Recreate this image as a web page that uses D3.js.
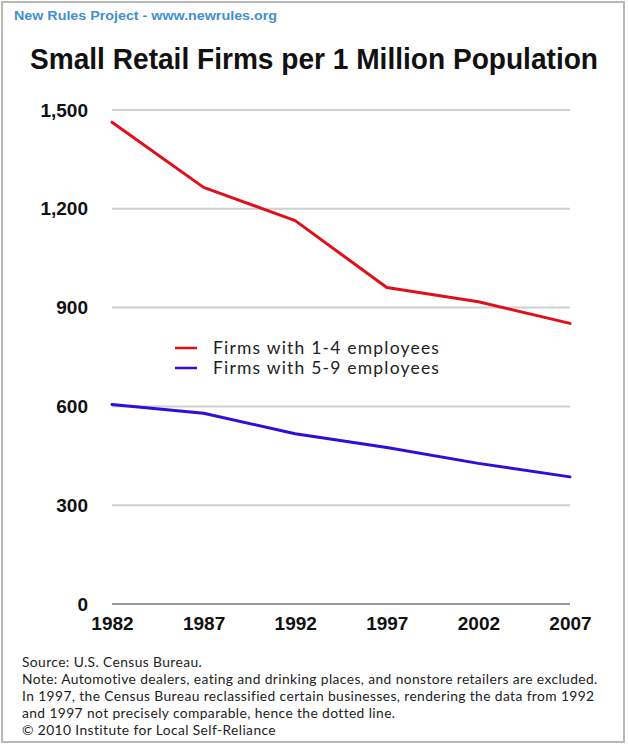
<!DOCTYPE html>
<html><head><meta charset="utf-8">
<script src="https://cdn.jsdelivr.net/npm/d3@7"></script>
<style>body{margin:0;background:#fff}svg{display:block}</style>
</head><body>
<script>
const years = [1982, 1987, 1992, 1997, 2002, 2007];
const firms1to4 = [1463, 1265, 1164, 961, 918, 852];
const firms5to9 = [606, 579, 517, 475, 427, 386];
const yTicks = [0, 300, 600, 900, 1200, 1500];
const seriesNames = ["Firms with 1-4 employees", "Firms with 5-9 employees"];
const seriesColors = ["#e0101a", "#2a10d8"];
const noteLines = [
  "Source:  U.S. Census Bureau.",
  "Note:  Automotive dealers, eating and drinking places, and nonstore retailers are excluded.",
  "In 1997, the Census Bureau reclassified certain businesses, rendering the data from 1992",
  "and 1997 not precisely comparable, hence the dotted line.",
  "\u00A9 2010 Institute for Local Self-Reliance"
];

const W = 628, H = 745;
const svg = d3.select("body").append("svg").attr("width", W).attr("height", H);

// frame
svg.append("rect").attr("x", 2).attr("y", 2).attr("width", 622).attr("height", 740)
  .attr("fill", "#fff").attr("stroke", "#b8b8b8").attr("stroke-width", 2);

svg.append("text").attr("x", 14).attr("y", 20)
  .attr("font-family", "Liberation Sans, Arial, sans-serif").attr("font-weight", "bold")
  .attr("font-size", 13.5).attr("fill", "#3f8fd2")
  .attr("textLength", 263).attr("lengthAdjust", "spacingAndGlyphs")
  .text("New Rules Project - www.newrules.org");

svg.append("text").attr("x", 30).attr("y", 69)
  .attr("font-family", "Liberation Sans, Arial, sans-serif").attr("font-weight", "bold")
  .attr("font-size", 29).attr("fill", "#111")
  .attr("textLength", 568).attr("lengthAdjust", "spacingAndGlyphs")
  .text("Small Retail Firms per 1 Million Population");

const x = d3.scalePoint().domain(years).range([112, 570]);
const y = d3.scaleLinear().domain([0, 1500]).range([604, 110]);

// grid
const gridG = svg.append("g");
gridG.selectAll("line").data(yTicks).join("line")
  .attr("x1", 112).attr("x2", 570)
  .attr("y1", d => y(d)).attr("y2", d => y(d))
  .attr("stroke", d => d === 0 ? "#9a9a9a" : "#cfcfcf")
  .attr("stroke-width", 2);

// y axis labels
const yAxis = d3.axisLeft(y).tickValues(yTicks).tickFormat(d3.format(",")).tickSize(0).tickPadding(0);
const ya = svg.append("g").attr("transform", "translate(88,0)").call(yAxis);
ya.select(".domain").remove();
ya.selectAll("text").attr("font-family", "Liberation Sans, Arial, sans-serif")
  .attr("font-weight", "bold").attr("font-size", 19).attr("fill", "#111");

// x axis labels
const xAxis = d3.axisBottom(x).tickSize(0).tickPadding(0).tickFormat(d3.format("d"));
const xa = svg.append("g").attr("transform", "translate(0,616)").call(xAxis);
xa.select(".domain").remove();
xa.selectAll("text").attr("font-family", "Liberation Sans, Arial, sans-serif")
  .attr("font-weight", "bold").attr("font-size", 19).attr("fill", "#111");

// lines
const line = d3.line().x((d, i) => x(years[i])).y(d => y(d));
[firms1to4, firms5to9].forEach((s, i) => {
  svg.append("path").attr("d", line(s)).attr("fill", "none")
    .attr("stroke", seriesColors[i]).attr("stroke-width", 3)
    .attr("stroke-linejoin", "round").attr("stroke-linecap", "round");
});

// legend
const lg = svg.append("g").attr("transform", "translate(175,348)");
seriesNames.forEach((n, i) => {
  lg.append("line").attr("x1", 0).attr("x2", 22).attr("y1", i * 20).attr("y2", i * 20)
    .attr("stroke", seriesColors[i]).attr("stroke-width", 2.5);
  lg.append("text").attr("x", 38).attr("y", i * 20 + 6)
    .attr("font-family", "Lato, Open Sans, sans-serif").attr("font-size", 17.5)
    .attr("letter-spacing", 1.2).attr("fill", "#222")
    .text(n);
});

// notes
const ng = svg.append("g");
ng.selectAll("text").data(noteLines).join("text")
  .attr("x", 22).attr("y", (d, i) => 667 + i * 17)
  .attr("font-family", "Lato, Open Sans, sans-serif").attr("font-size", 13.8)
  .attr("letter-spacing", 0.4).attr("fill", "#222")
  .text(d => d);
</script>
</body></html>
